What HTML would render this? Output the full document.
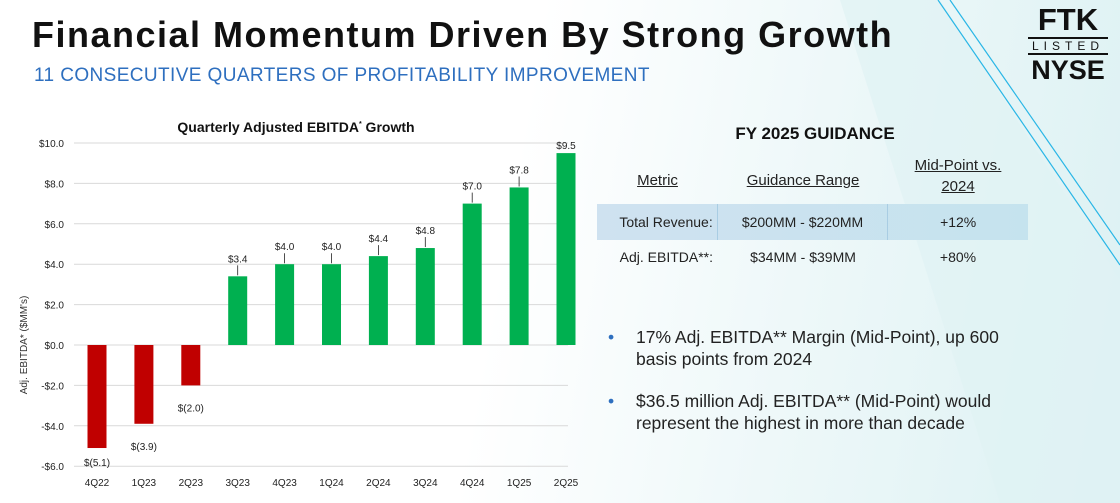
<!DOCTYPE html>
<html><head><meta charset="utf-8">
<style>
body{margin:0;width:1120px;height:503px;overflow:hidden;font-family:"Liberation Sans",sans-serif;position:relative;background:linear-gradient(100deg,#ffffff 0%,#ffffff 45%,#eef8f9 70%,#dcf1f3 100%);}
.abs{position:absolute}
</style></head><body>
<svg class="abs" style="left:0;top:0" width="1120" height="503">
<polygon points="840,0 940,0 1120,280 1120,503 1000,503" fill="#dff2f4" opacity="0.7"/>
<line x1="938" y1="0" x2="1120" y2="265" stroke="#29b6e6" stroke-width="1.2"/>
<line x1="950" y1="0" x2="1120" y2="245" stroke="#29b6e6" stroke-width="1.2"/>
</svg>
<div class="abs" style="left:32px;top:14px;font-size:36px;font-weight:bold;color:#111;letter-spacing:1.5px">Financial Momentum Driven By Strong Growth</div>
<div class="abs" style="left:34px;top:65px;font-size:19px;color:#2e6fbf;letter-spacing:0.4px">11 CONSECUTIVE QUARTERS OF PROFITABILITY IMPROVEMENT</div>
<div class="abs" style="left:1028px;top:4px;width:80px;text-align:center;color:#111">
<div style="font-size:31px;font-weight:bold;line-height:32px">FTK</div>
<div style="border-top:2px solid #111;border-bottom:2px solid #111;font-size:12px;letter-spacing:5px;line-height:14px;margin:1px 0">LISTED</div>
<div style="font-size:27px;font-weight:bold;line-height:28px">NYSE</div>
</div>
<svg id="chart" class="abs" style="left:0;top:110px" width="590" height="393"></svg>
<div class="abs" style="left:590px;top:124px;width:450px;text-align:center;font-size:17px;font-weight:bold;color:#111">FY 2025 GUIDANCE</div>
<div class="abs" style="left:597px;top:155px;width:431px;font-size:14px;color:#222">
<div style="position:absolute;left:0;top:0;width:121px;height:49px;display:flex;align-items:flex-end;justify-content:center;padding-bottom:15px;box-sizing:border-box;font-size:15px"><u>Metric</u></div>
<div style="position:absolute;left:121px;top:0;width:170px;height:49px;display:flex;align-items:flex-end;justify-content:center;padding-bottom:15px;box-sizing:border-box;font-size:15px"><u>Guidance Range</u></div>
<div style="position:absolute;left:291px;top:0;width:140px;height:49px;text-align:center;font-size:15px;line-height:21px"><u>Mid-Point vs.<br>2024</u></div>
<div style="position:absolute;left:0;top:49px;width:431px;height:36px;background:linear-gradient(90deg,#cfe2f0,#c5e3ee);display:flex;align-items:center">
<div style="width:116px;text-align:right;border-right:1px solid #a9cde3;height:36px;line-height:36px;padding-right:4px">Total Revenue:</div>
<div style="width:170px;text-align:center;border-right:1px solid #a9cde3;height:36px;line-height:36px">$200MM - $220MM</div>
<div style="width:140px;text-align:center">+12%</div></div>
<div style="position:absolute;left:0;top:85px;width:431px;height:34px;display:flex;align-items:center">
<div style="width:116px;text-align:right;padding-right:5px">Adj. EBITDA**:</div>
<div style="width:170px;text-align:center">$34MM - $39MM</div>
<div style="width:140px;text-align:center">+80%</div></div>
</div>
<div class="abs" style="left:608px;top:326px;width:450px;font-size:17.5px;color:#222;line-height:22px">
<div style="position:relative;padding-left:28px;margin-bottom:20px"><span style="position:absolute;left:0;color:#2e6fbf">•</span>17% Adj. EBITDA** Margin (Mid-Point), up 600<br>basis points from 2024</div>
<div style="position:relative;padding-left:28px"><span style="position:absolute;left:0;color:#2e6fbf">•</span>$36.5 million Adj. EBITDA** (Mid-Point) would<br>represent the highest in more than decade</div>
</div>
<script>
const categories=["4Q22","1Q23","2Q23","3Q23","4Q23","1Q24","2Q24","3Q24","4Q24","1Q25","2Q25"];
const values=[-5.1,-3.9,-2.0,3.4,4.0,4.0,4.4,4.8,7.0,7.8,9.5];
const valueLabels=["$(5.1)","$(3.9)","$(2.0)","$3.4","$4.0","$4.0","$4.4","$4.8","$7.0","$7.8","$9.5"];
const yTicks=[10,8,6,4,2,0,-2,-4,-6];
const yTickLabels=["$10.0","$8.0","$6.0","$4.0","$2.0","$0.0","-$2.0","-$4.0","-$6.0"];
const NS="http://www.w3.org/2000/svg";
const svg=document.getElementById('chart');
const y=v=>235-v*20.2;
const x=i=>97+i*46.9;
function mk(t,a,txt){const e=document.createElementNS(NS,t);for(const k in a)e.setAttribute(k,a[k]);if(txt!=null)e.textContent=txt;svg.appendChild(e);return e;}
let t=mk('text',{x:296,y:22,'text-anchor':'middle','font-size':14,'font-weight':'bold',fill:'#111'});

t.innerHTML='Quarterly Adjusted EBITDA<tspan font-size="7" dy="-6">*</tspan><tspan dy="6"> Growth</tspan>';
let yt=mk('text',{transform:'translate(27,235) rotate(-90)','text-anchor':'middle','font-size':10,fill:'#333'},"Adj. EBITDA* ($MM's)");

yTicks.forEach((v,i)=>{
 const g=mk('line',{x1:74,x2:568,y1:y(v),y2:y(v),stroke:'#d9d9d9','stroke-width':1});
 
 const l=mk('text',{x:64,y:y(v)+4,'text-anchor':'end','font-size':10,fill:'#222'},yTickLabels[i]);
 
});
categories.forEach((c,i)=>{
 const v=values[i];const bw=19;
 const r=mk('rect',{x:x(i)-bw/2,y:Math.min(y(v),y(0)),width:bw,height:Math.abs(y(v)-y(0)),fill:v<0?'#c00000':'#00b050'});
 
 const xl=mk('text',{x:x(i),y:376,'text-anchor':'middle','font-size':10,fill:'#222'},c);
 
 let ly=v<0?y(v)+(i==0?18:26):y(v)-14;
 if(i==10) ly=y(v)-4;
 if(v>=0&&i!=10){const ln=mk('line',{x1:x(i),x2:x(i),y1:ly+3,y2:y(v)-1,stroke:'#222','stroke-width':0.8});}
 const vl=mk('text',{x:x(i),y:ly,'text-anchor':'middle','font-size':10,fill:'#222'},valueLabels[i]);
 
});
</script>
</body></html>
